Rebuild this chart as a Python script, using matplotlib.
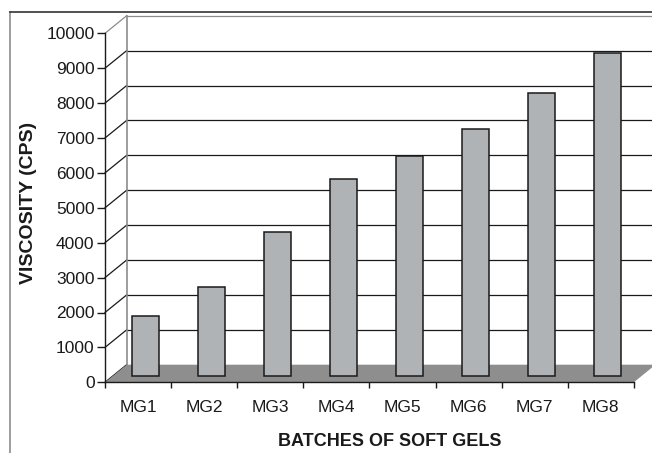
import numpy as np
import matplotlib.pyplot as plt
from matplotlib.patches import Polygon
from matplotlib.lines import Line2D

plt.rcParams['font.family'] = ['Liberation Sans', 'DejaVu Sans']

batches = ['MG1', 'MG2', 'MG3', 'MG4', 'MG5', 'MG6', 'MG7', 'MG8']
viscosity = [1730, 2550, 4130, 5670, 6320, 7100, 8130, 9280]
yticks = list(range(0, 10001, 1000))

W, H = 652, 453
fig = plt.figure(figsize=(W / 100, H / 100), dpi=100)

# axes placed so data x=0 sits on the front axis line
left_px, right_px, bot_px, top_px = 105, 652, 382.3, 12
ax = fig.add_axes([left_px / W, 1 - bot_px / H,
                   (right_px - left_px) / W, (bot_px - top_px) / H])
px_per_cat = 66.1
px_per_val = 0.0349
ax.set_xlim(0, (right_px - left_px) / px_per_cat)
ax.set_ylim(0, (bot_px - top_px) / px_per_val)

# pseudo 3d depth
dx = 21.7 / px_per_cat
dy = 17.6 / px_per_val
n = len(batches)
xmax = ax.get_xlim()[1]

# back wall gridlines + side wall diagonals
for v in yticks:
    col = '#8c8c8c' if v == yticks[-1] else '#1a1a1a'
    ax.plot([0, dx], [v, v + dy], color=col, lw=0.9, clip_on=False, zorder=1)
    if v > 0:
        ax.plot([dx, xmax], [v + dy, v + dy], color=col, lw=0.9,
                clip_on=False, zorder=1)
ax.plot([dx, dx], [dy, yticks[-1] + dy], color='#8c8c8c', lw=1.2, zorder=1)

# floor
floor = Polygon([[0, 0], [n, 0], [n + dx, dy], [dx, dy]], closed=True,
                facecolor='#8e8e8e', edgecolor='none', zorder=2, clip_on=False)
ax.add_patch(floor)

# bars
f = 0.33
xs = np.arange(n) + 0.5 + f * dx
ax.bar(xs, viscosity, width=0.41, bottom=f * dy, color='#b0b3b6',
       edgecolor='#1a1a1a', linewidth=1.1, zorder=3)

# axes
for s in ['top', 'right']:
    ax.spines[s].set_visible(False)
ax.spines['left'].set_bounds(0, yticks[-1])
ax.spines['bottom'].set_bounds(0, n)
for s in ['left', 'bottom']:
    ax.spines[s].set_color('#1a1a1a')
    ax.spines[s].set_linewidth(1.0)
    ax.spines[s].set_zorder(4)

ax.set_yticks(yticks)
ax.set_yticklabels([str(v) for v in yticks])
ax.set_xticks(np.arange(n + 1))
ax.set_xticklabels([])
ax.set_xticks(np.arange(n) + 0.5, minor=True)
ax.set_xticklabels(batches, minor=True)
ax.tick_params(axis='y', length=6, width=1.0, pad=1.5, labelsize=12.5,
               color='#1a1a1a', labelcolor='#1a1a1a')
ax.tick_params(axis='x', which='major', length=4.5, width=1.0,
               color='#1a1a1a')
ax.tick_params(axis='x', which='minor', length=0, pad=13, labelsize=12.5,
               labelcolor='#1a1a1a')

fig.text(390 / W, 1 - 441.5 / H, 'BATCHES OF SOFT GELS', ha='center',
         va='center', fontsize=13, fontweight='bold', color='#1a1a1a')
fig.text(29 / W, 1 - 203 / H, 'VISCOSITY (CPS)', ha='center', va='center',
         rotation=90, fontsize=14, fontweight='bold', color='#1a1a1a')

# outer chart border
fig.add_artist(Line2D([10 / W, 10 / W], [0, 1 - 12 / H], color='#8c8c8c',
                      lw=1.2, transform=fig.transFigure))
fig.add_artist(Line2D([10 / W, 1], [1 - 12 / H, 1 - 12 / H], color='#333333',
                      lw=1.2, transform=fig.transFigure))

fig.savefig('out.png', dpi=100)
